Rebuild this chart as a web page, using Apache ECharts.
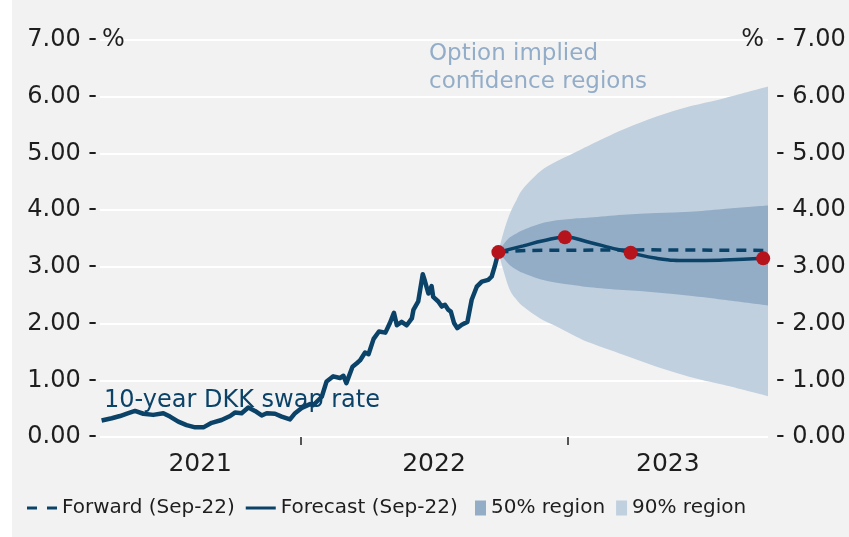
<!DOCTYPE html>
<html>
<head>
<meta charset="utf-8">
<script src="https://cdn.jsdelivr.net/npm/echarts@6/dist/echarts.min.js"></script>
<style>
  html, body { margin: 0; padding: 0; background: #ffffff; }
  #chart { position: absolute; left: 12px; top: 0; width: 837px; height: 537px; background: #f2f2f2; }
</style>
</head>
<body>
<div id="chart"></div>
<script>
// x values are decimal years
var yearTicks = [2022, 2023];
var yearLabels = [2021.625, 2022.5, 2023.375];

// 10-year DKK swap rate
var swapRate = [
  [2021.256, 0.29], [2021.294, 0.33], [2021.325, 0.37], [2021.356, 0.42], [2021.381, 0.46],
  [2021.412, 0.41], [2021.449, 0.39], [2021.487, 0.42], [2021.512, 0.36], [2021.543, 0.27],
  [2021.574, 0.21], [2021.606, 0.17], [2021.637, 0.17], [2021.668, 0.25], [2021.705, 0.30],
  [2021.737, 0.37], [2021.755, 0.43], [2021.780, 0.42], [2021.805, 0.52], [2021.830, 0.46],
  [2021.855, 0.38], [2021.874, 0.42], [2021.905, 0.41], [2021.930, 0.36], [2021.961, 0.31],
  [2021.980, 0.42], [2022.005, 0.51], [2022.036, 0.58], [2022.048, 0.56], [2022.080, 0.71],
  [2022.098, 0.98], [2022.123, 1.07], [2022.148, 1.04], [2022.161, 1.08], [2022.172, 0.95],
  [2022.195, 1.24], [2022.211, 1.30], [2022.223, 1.35], [2022.242, 1.49], [2022.255, 1.46],
  [2022.274, 1.73], [2022.294, 1.86], [2022.318, 1.84], [2022.335, 2.01], [2022.350, 2.19],
  [2022.361, 1.97], [2022.379, 2.03], [2022.398, 1.97], [2022.417, 2.09], [2022.423, 2.24],
  [2022.441, 2.39], [2022.458, 2.87], [2022.466, 2.75], [2022.473, 2.78], [2022.479, 2.53],
  [2022.491, 2.66], [2022.497, 2.47], [2022.516, 2.39], [2022.529, 2.30], [2022.541, 2.33],
  [2022.554, 2.24], [2022.563, 2.21], [2022.575, 2.01], [2022.587, 1.92], [2022.604, 1.98],
  [2022.625, 2.03], [2022.641, 2.42], [2022.660, 2.65], [2022.679, 2.74], [2022.703, 2.77],
  [2022.716, 2.83], [2022.728, 3.02], [2022.741, 3.26]
];

var forward = [[2022.741, 3.26], [2022.85, 3.29], [2023.3, 3.30], [2023.75, 3.29]];

var forecast = [
  [2022.741, 3.26], [2022.834, 3.37], [2022.909, 3.46], [2022.990, 3.52], [2023.084, 3.43],
  [2023.159, 3.34], [2023.236, 3.25], [2023.333, 3.15], [2023.458, 3.11], [2023.583, 3.12],
  [2023.732, 3.15]
];

var forecastDots = [[2022.741, 3.26], [2022.990, 3.52], [2023.236, 3.25], [2023.732, 3.15]];

// confidence fan
var fanX    = [2022.741, 2022.759, 2022.784, 2022.809, 2022.834, 2022.897, 2022.959, 2023.020, 2023.084, 2023.208, 2023.333, 2023.458, 2023.583, 2023.75];
var upper90 = [3.26, 3.59, 3.94, 4.18, 4.38, 4.68, 4.86, 5.00, 5.15, 5.42, 5.65, 5.83, 5.97, 6.18];
var upper50 = [3.26, 3.39, 3.52, 3.59, 3.65, 3.76, 3.82, 3.85, 3.87, 3.92, 3.95, 3.97, 4.02, 4.08];
var lower50 = [3.26, 3.16, 3.03, 2.95, 2.89, 2.78, 2.72, 2.68, 2.64, 2.59, 2.55, 2.49, 2.42, 2.32];
var lower90 = [3.26, 2.95, 2.59, 2.42, 2.30, 2.09, 1.95, 1.80, 1.66, 1.45, 1.24, 1.06, 0.92, 0.72];

var navy = '#0b4268';
var light = '#c0d0df';
var dark = '#93adc6';
var font = 'DejaVu Sans';

// smooth edge through pixel points (catmull-rom -> bezier)
function curve(pts) {
  var d = '';
  for (var i = 0; i < pts.length - 1; i++) {
    var p0 = pts[i - 1] || pts[i], p1 = pts[i], p2 = pts[i + 1], p3 = pts[i + 2] || p2;
    d += ' C' + (p1[0] + (p2[0] - p0[0]) / 6) + ',' + (p1[1] + (p2[1] - p0[1]) / 6) +
         ' ' + (p2[0] - (p3[0] - p1[0]) / 6) + ',' + (p2[1] - (p3[1] - p1[1]) / 6) +
         ' ' + p2[0] + ',' + p2[1];
  }
  return d;
}

function fanSeries(name, color, upper, lower) {
  return {
    name: name, type: 'custom', silent: true,
    itemStyle: { color: color },
    data: fanX.map(function (x, i) { return [x, lower[i], upper[i]]; }),
    encode: { x: 0, y: [1, 2] },
    renderItem: function (params, api) {
      if (params.dataIndex !== 0) return;
      var up = fanX.map(function (x, i) { return api.coord([x, upper[i]]); });
      var lo = fanX.map(function (x, i) { return api.coord([x, lower[i]]); }).reverse();
      var d = 'M' + up[0][0] + ',' + up[0][1] + curve(up) +
              ' L' + lo[0][0] + ',' + lo[0][1] + curve(lo) + ' Z';
      return { type: 'path', shape: { pathData: d }, style: { fill: color } };
    }
  };
}

var chart = echarts.init(document.getElementById('chart'));

var labelStyle = { color: '#1e1e1e', fontFamily: font, fontSize: 24 };
var legendText = { color: '#1e1e1e', fontFamily: font, fontSize: 20 };

chart.setOption({
  animation: false,
  backgroundColor: '#f2f2f2',
  grid: { left: 88, right: 81, top: 40, bottom: 100 },
  xAxis: {
    type: 'value', min: 2021.25, max: 2023.75,
    axisLine: { show: false },
    splitLine: { show: false },
    axisTick: { show: true, customValues: yearTicks, length: 8, lineStyle: { color: '#222', width: 1.5 } },
    axisLabel: {
      customValues: yearLabels, margin: 15, color: '#1e1e1e', fontFamily: font, fontSize: 25,
      formatter: function (v) { return String(Math.floor(v)); }
    }
  },
  yAxis: [
    {
      type: 'value', min: 0, max: 7, interval: 1, position: 'left',
      name: '%', nameGap: 0, nameMoveOverlap: false,
      nameTextStyle: { color: '#1e1e1e', fontFamily: font, fontSize: 24, align: 'left', verticalAlign: 'middle', padding: [0, 0, 0, 2] },
      axisLine: { show: false }, axisTick: { show: false },
      splitLine: { show: true, lineStyle: { color: '#ffffff', width: 2 } },
      axisLabel: Object.assign({ margin: 3, formatter: function (v) { return v.toFixed(2) + ' -'; } }, labelStyle)
    },
    {
      type: 'value', min: 0, max: 7, interval: 1, position: 'right',
      name: '%', nameGap: 0, nameMoveOverlap: false,
      nameTextStyle: { color: '#1e1e1e', fontFamily: font, fontSize: 24, align: 'right', verticalAlign: 'middle', padding: [0, 4, 0, 0] },
      axisLine: { show: false }, axisTick: { show: false },
      splitLine: { show: false },
      axisLabel: Object.assign({ margin: 8, formatter: function (v) { return '- ' + v.toFixed(2); } }, labelStyle)
    }
  ],
  legend: [
    {
      left: 10, bottom: 14,
      itemWidth: 30, itemHeight: 15, itemGap: 11,
      textStyle: legendText,
      data: [
        { name: 'Forward (Sep-22)', icon: 'path://M0,0h10v3h-10z M20,0h10v3h-10z' },
        { name: 'Forecast (Sep-22)', icon: 'path://M0,0h30v3h-30z' }
      ]
    },
    {
      left: 458, bottom: 14,
      itemWidth: 11, itemHeight: 15, itemGap: 11,
      textStyle: legendText,
      data: [
        { name: '50% region', icon: 'rect' },
        { name: '90% region', icon: 'rect' }
      ]
    }
  ],
  graphic: [
    { type: 'text', left: 92, top: 389, style: { text: '10-year DKK swap rate', fill: navy, font: '24px ' + font } },
    { type: 'text', left: 417, top: 40, style: { text: 'Option implied\nconfidence regions', fill: '#93adc8', font: '23px ' + font, lineHeight: 28 } }
  ],
  series: [
    fanSeries('90% region', light, upper90, lower90),
    fanSeries('50% region', dark, upper50, lower50),
    { name: 'swap', type: 'line', data: swapRate, symbol: 'none', color: navy, lineStyle: { width: 4.5, join: 'round' } },
    { name: 'Forward (Sep-22)', type: 'line', data: forward, symbol: 'none', color: navy, lineStyle: { width: 3.5, type: [10, 7] } },
    { name: 'Forecast (Sep-22)', type: 'line', data: forecast, symbol: 'none', smooth: true, color: navy, lineStyle: { width: 3.5 } },
    { name: 'dots', type: 'scatter', data: forecastDots, symbolSize: 14, itemStyle: { color: '#b5141c', opacity: 1 }, z: 5 }
  ]
});
</script>
</body>
</html>
